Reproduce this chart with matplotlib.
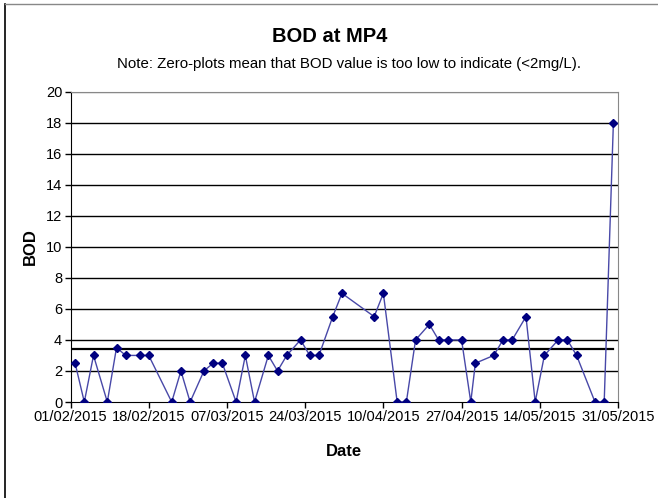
import matplotlib
matplotlib.use("Agg")
import matplotlib.pyplot as plt
import pandas as pd

plt.rcParams['font.family'] = ['Liberation Sans', 'DejaVu Sans']

dates = ["02/02/2015", "04/02/2015", "06/02/2015", "09/02/2015", "11/02/2015", "13/02/2015",
         "16/02/2015", "18/02/2015", "23/02/2015", "25/02/2015", "27/02/2015", "02/03/2015",
         "04/03/2015", "06/03/2015", "09/03/2015", "11/03/2015", "13/03/2015", "16/03/2015",
         "18/03/2015", "20/03/2015", "23/03/2015", "25/03/2015", "27/03/2015", "30/03/2015",
         "01/04/2015", "08/04/2015", "10/04/2015", "13/04/2015", "15/04/2015", "17/04/2015",
         "20/04/2015", "22/04/2015", "24/04/2015", "27/04/2015", "29/04/2015", "30/04/2015",
         "04/05/2015", "06/05/2015", "08/05/2015", "11/05/2015", "13/05/2015", "15/05/2015",
         "18/05/2015", "20/05/2015", "22/05/2015", "26/05/2015", "28/05/2015", "30/05/2015"]
bod = [2.5, 0, 3, 0, 3.5, 3,
       3, 3, 0, 2, 0, 2,
       2.5, 2.5, 0, 3, 0, 3,
       2, 3, 4, 3, 3, 5.5,
       7, 5.5, 7, 0, 0, 4,
       5, 4, 4, 4, 0, 2.5,
       3, 4, 4, 5.5, 0, 3,
       4, 4, 3, 0, 0, 18]
reference_value = 3.4
tick_labels = ["01/02/2015", "18/02/2015", "07/03/2015", "24/03/2015", "10/04/2015",
               "27/04/2015", "14/05/2015", "31/05/2015"]

x = pd.to_datetime(dates, format="%d/%m/%Y")
ticks = pd.to_datetime(tick_labels, format="%d/%m/%Y")

fig = plt.figure(figsize=(6.58, 4.98), dpi=100)
ax = fig.add_axes([70.5/658, 1 - 402/498, (618 - 70.5)/658, (402 - 91.5)/498])

# frame lines of the chart area
fig.add_artist(plt.Line2D([5/658, 5/658], [0, 1 - 4/498], transform=fig.transFigure, color='black', lw=1.2))
fig.add_artist(plt.Line2D([5/658, 1], [1 - 4/498, 1 - 4/498], transform=fig.transFigure, color='#888888', lw=1.0))

for v in range(2, 21, 2):
    ax.axhline(v, color='black' if v < 20 else '#888888', lw=1.0, zorder=1)

ax.plot([ticks[0], x[-1]], [reference_value, reference_value], color='black', lw=1.6, zorder=2)
ax.plot(x, bod, color='#4848a8', lw=1.0, marker='D', markersize=4.5,
        markerfacecolor='#000080', markeredgecolor='#000080', zorder=3)

ax.set_xlim(ticks[0], ticks[-1])
ax.set_ylim(0, 20)
ax.set_yticks(range(0, 21, 2))
ax.set_xticks(ticks)
ax.set_xticklabels(tick_labels)
ax.tick_params(axis='both', labelsize=10.5, direction='out', length=4, width=1, color='black', pad=2)

for s in ['top', 'right']:
    ax.spines[s].set_color('#888888')
for s in ['left', 'bottom']:
    ax.spines[s].set_color('black')

ax.set_ylabel('BOD', fontsize=12, fontweight='bold', labelpad=6)
ax.set_xlabel('Date', fontsize=12, fontweight='bold', labelpad=14)

fig.text(330/658, 1 - 36.5/498, 'BOD at MP4', ha='center', va='center',
         fontsize=14.5, fontweight='bold')
fig.text(349/658, 1 - 64/498, 'Note: Zero-plots mean that BOD value is too low to indicate (<2mg/L).',
         ha='center', va='center', fontsize=10.8)

fig.savefig('out.png', dpi=100)
